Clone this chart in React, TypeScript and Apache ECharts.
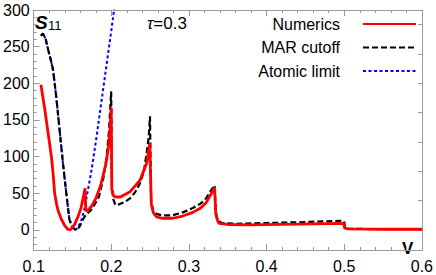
import React, { useEffect, useRef } from "react";
import * as echarts from "echarts";

const FONT = "'Liberation Sans', Arial, sans-serif";

// Numerics (red, solid)
const numericsV = [0.1093,0.1144,0.1186,0.1228,0.125,0.127,0.1295,0.1313,0.1355,0.14,0.144,0.147,0.1524,0.157,0.161,0.1662,0.1672,0.170,0.175,0.180,0.186,0.1926,0.196,0.1985,0.1998,0.2007,0.203,0.206,0.2117,0.224,0.237,0.2455,0.2495,0.2515,0.254,0.258,0.265,0.279,0.292,0.305,0.315,0.322,0.329,0.333,0.3345,0.337,0.3386,0.35,0.377,0.44,0.495,0.4995,0.5005,0.505,0.55,0.6];
const numericsS = [198,164,132,100,77,50,35,27,15,6,1,0,7,18,30,57,26,27,33,43,60,88,110,140,167,55,46,45,45,52,68,91,118,35,24,18,16,16,19,24,30,37,50,58,22,12,9,7.5,7,8,9,8.5,2.5,1.5,1,1];

// MAR cutoff (black, dashed)
const marV = [0.1093,0.112,0.1155,0.1186,0.122,0.125,0.129,0.1334,0.1377,0.142,0.146,0.1504,0.1546,0.1588,0.1643,0.1667,0.1736,0.178,0.184,0.190,0.194,0.197,0.1998,0.2007,0.2025,0.2053,0.210,0.217,0.224,0.231,0.237,0.242,0.2455,0.248,0.2498,0.2512,0.254,0.258,0.265,0.279,0.292,0.305,0.315,0.322,0.329,0.333,0.3345,0.337,0.342,0.36,0.40,0.44,0.495,0.4998,0.501,0.506,0.55,0.6];
const marS = [265,268,260,246,232,218,182,136,91,50,14,3,0,4,16,20,27,34,45,72,100,135,189,60,42,34,35,38,43,52,64,80,105,125,155,40,26,22,20,20,24,30,36,43,55,61,25,13,9.5,8.5,9.5,10.5,12.5,12,3,1.5,1.2,1];

// Atomic limit (blue, dotted)
const atomicV = [0.1093,0.112,0.1155,0.1186,0.122,0.125,0.129,0.1334,0.1377,0.142,0.146,0.1504,0.1535,0.157,0.161,0.165,0.170,0.175,0.180,0.185,0.190,0.195,0.200,0.2035,0.205];
const atomicS = [265,268,260,246,232,218,182,136,91,50,14,3,0,3,12,27,55,85,120,158,196,234,272,300,312];

const xTicks = [0.1, 0.2, 0.3, 0.4, 0.5, 0.6];
const yTicks = [0, 50, 100, 150, 200, 250, 300];
const yMinorTicks = [-20,-10,10,20,30,40,60,70,80,90,110,120,130,140,160,170,180,190,210,220,230,240,260,270,280,290];
const yRightTicks = [0, 40, 80, 120, 160, 200, 240, 280];

const zip = (a: number[], b: number[]) => a.map((v, i) => [v, b[i]]);

const FRAME = "#9a9a9a";

export default function App() {
  const ref = useRef<HTMLDivElement>(null);
  useEffect(() => {
    if (!ref.current) return;
    const chart = echarts.init(ref.current, null, { renderer: "svg" });
    const baseX = {
      type: "value" as const,
      min: 0.1,
      max: 0.6,
      interval: 0.1,
      splitLine: { show: false },
      axisLine: { show: true, onZero: false, lineStyle: { color: FRAME, width: 1 } },
      axisTick: { show: true, inside: true, length: 6, lineStyle: { color: FRAME } },
      minorTick: { show: true, splitNumber: 5, length: 3, lineStyle: { color: FRAME } },
    };
    const baseY = {
      type: "value" as const,
      min: -27.3,
      max: 300,
      splitLine: { show: false },
    };
    chart.setOption({
      animation: false,
      grid: { left: 32, right: 11, top: 10, bottom: 25 },
      xAxis: [
        {
          ...baseX,
          position: "bottom",
          axisLabel: {
            show: true,
            fontSize: 16,
            fontFamily: FONT,
            color: "#000",
            margin: 8,
            formatter: (v: number) => v.toFixed(1),
            customValues: xTicks,
          },
        },
        { ...baseX, position: "top", axisLabel: { show: false } },
      ],
      yAxis: [
        {
          ...baseY,
          position: "left",
          axisLine: { show: true, onZero: false, lineStyle: { color: FRAME } },
          axisTick: { show: true, inside: true, length: 6, customValues: yTicks, lineStyle: { color: FRAME } },
          axisLabel: { show: true, fontSize: 16, fontFamily: FONT, color: "#000", margin: 4, customValues: yTicks },
        },
        {
          ...baseY,
          position: "left",
          axisLine: { show: false, onZero: false },
          axisTick: { show: true, inside: true, length: 3, customValues: yMinorTicks, lineStyle: { color: FRAME } },
          axisLabel: { show: false },
        },
        {
          ...baseY,
          position: "right",
          axisLine: { show: true, onZero: false, lineStyle: { color: FRAME } },
          axisTick: { show: true, inside: true, length: 4, customValues: yRightTicks, lineStyle: { color: FRAME } },
          axisLabel: { show: false },
        },
      ],
      legend: {
        orient: "vertical",
        right: 14,
        top: 11,
        align: "right",
        itemWidth: 53,
        itemHeight: 14,
        itemGap: 7.5,
        itemStyle: { opacity: 0 },
        textStyle: { fontSize: 16, fontFamily: FONT, color: "#000", padding: [0, 18, 0, 0] },
        data: ["Numerics", "MAR cutoff", "Atomic limit"],
      },
      series: [
        {
          name: "Numerics",
          type: "line",
          symbol: "none",
          z: 4,
          data: zip(numericsV, numericsS),
          lineStyle: { color: "#ff0000", width: 2.8 },
          itemStyle: { color: "#ff0000" },
        },
        {
          name: "MAR cutoff",
          type: "line",
          symbol: "none",
          z: 3,
          data: zip(marV, marS),
          lineStyle: { color: "#000000", width: 2.2, type: [6, 3] },
          itemStyle: { color: "#000000" },
        },
        {
          name: "Atomic limit",
          type: "line",
          symbol: "none",
          z: 2,
          data: zip(atomicV, atomicS),
          lineStyle: { color: "#0000ff", width: 2, type: [3, 2.5] },
          itemStyle: { color: "#0000ff" },
        },
      ],
      graphic: [
        {
          type: "text",
          x: 35,
          y: 13,
          style: { text: "S", font: `italic bold 19px ${FONT}`, fill: "#000" },
        },
        {
          type: "text",
          x: 48,
          y: 19,
          style: { text: "11", font: `13px ${FONT}`, fill: "#000" },
        },
        {
          type: "text",
          x: 147,
          y: 15,
          style: {
            text: "{t|τ}{r|=0.3}",
            rich: {
              t: { fontSize: 17, fontStyle: "italic", fontFamily: FONT, fill: "#000" },
              r: { fontSize: 17, fontFamily: FONT, fill: "#000" },
            },
          },
        },
        {
          type: "text",
          x: 402,
          y: 240,
          style: { text: "V", font: `bold 17px ${FONT}`, fill: "#000" },
        },
      ],
    });
    return () => chart.dispose();
  }, []);
  return (
    <div
      ref={ref}
      style={{ position: "fixed", left: 0, top: 0, width: 436, height: 275, background: "#fff" }}
    />
  );
}
